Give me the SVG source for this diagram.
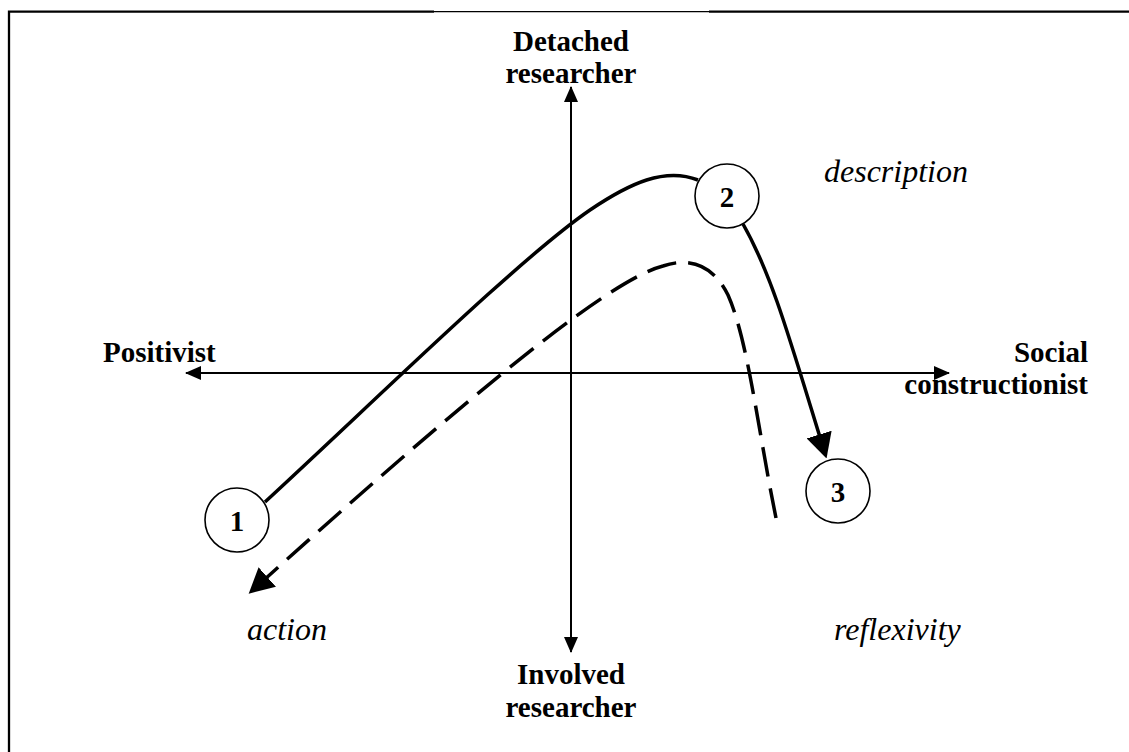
<svg xmlns="http://www.w3.org/2000/svg" width="1129" height="752" viewBox="0 0 1129 752">
<style>
.lbl{font-family:"Liberation Serif","Times New Roman",serif;font-weight:bold;font-size:29px;fill:#000}
.it{font-family:"Liberation Serif","Times New Roman",serif;font-style:italic;font-size:32px;fill:#000}
.num{font-family:"Liberation Serif","Times New Roman",serif;font-weight:bold;font-size:29px;fill:#000;text-anchor:middle}
.circ{fill:#fff;stroke:#000;stroke-width:1.6}
.axis{stroke:#000;stroke-width:2;fill:none}
.curve{stroke:#000;stroke-width:3.5;fill:none}
.dash{stroke-dasharray:30 12}
</style>
<defs>
<marker id="ax" markerUnits="userSpaceOnUse" viewBox="0 0 16 14" markerWidth="16" markerHeight="14" refX="15" refY="7" orient="auto">
<path d="M0,0 L16,7 L0,14 Z" fill="#000"/>
</marker>
<marker id="big" markerUnits="userSpaceOnUse" viewBox="0 0 25 26" markerWidth="25" markerHeight="26" refX="13" refY="13" orient="auto">
<path d="M0,0 L25,13 L0,26 Z" fill="#000"/>
</marker>
</defs>
<g id="frame">
<path d="M9,752 L9,11.7 L434,11.7" stroke="#000" stroke-width="2.3" fill="none"/>
<path d="M434,11.6 L709,11.6" stroke="#000" stroke-width="1.2" fill="none"/>
<path d="M709,11.7 L1129,11.7" stroke="#000" stroke-width="2.3" fill="none"/>
</g>
<g id="connectors">
<line id="axis-up" class="axis" x1="571" y1="373" x2="571" y2="87" marker-end="url(#ax)"/>
<line id="axis-down" class="axis" x1="571" y1="373" x2="571" y2="652" marker-end="url(#ax)"/>
<line id="axis-left" class="axis" x1="571" y1="373" x2="186" y2="373" marker-end="url(#ax)"/>
<line id="axis-right" class="axis" x1="571" y1="373" x2="949" y2="373" marker-end="url(#ax)"/>
<path id="solid-1-2" class="curve" d="M265,502 C380,396 520,258 590,210 C630,183 665,167 698,180"/>
<path id="solid-2-3" class="curve" d="M743,224 C772,275 790,340 823,447" marker-end="url(#big)"/>
<path id="dashed" class="curve dash" d="M776,518 C758,430 748,340 728,295 C712,262 686,258 663,266 C600,282 420,440 257.6,585.7" marker-end="url(#big)"/>
</g>
<g id="node-detached"><text class="lbl" x="571" y="51" text-anchor="middle">Detached</text><text class="lbl" x="571" y="83" text-anchor="middle">researcher</text></g>
<g id="node-involved"><text class="lbl" x="571" y="684" text-anchor="middle">Involved</text><text class="lbl" x="571" y="717" text-anchor="middle">researcher</text></g>
<g id="node-positivist"><text class="lbl" x="103" y="362">Positivist</text></g>
<g id="node-social"><text class="lbl" x="1088" y="362" text-anchor="end">Social</text><text class="lbl" x="1088" y="394" text-anchor="end">constructionist</text></g>
<g id="node-description"><text class="it" x="824" y="182">description</text></g>
<g id="node-action"><text class="it" x="247" y="640">action</text></g>
<g id="node-reflexivity"><text class="it" x="834" y="640">reflexivity</text></g>
<g id="node-1"><circle class="circ" cx="237" cy="520" r="32"/><text class="num" x="237" y="531">1</text></g>
<g id="node-2"><circle class="circ" cx="727" cy="196" r="32"/><text class="num" x="727" y="207">2</text></g>
<g id="node-3"><circle class="circ" cx="838" cy="491" r="32"/><text class="num" x="838" y="502">3</text></g>
</svg>
